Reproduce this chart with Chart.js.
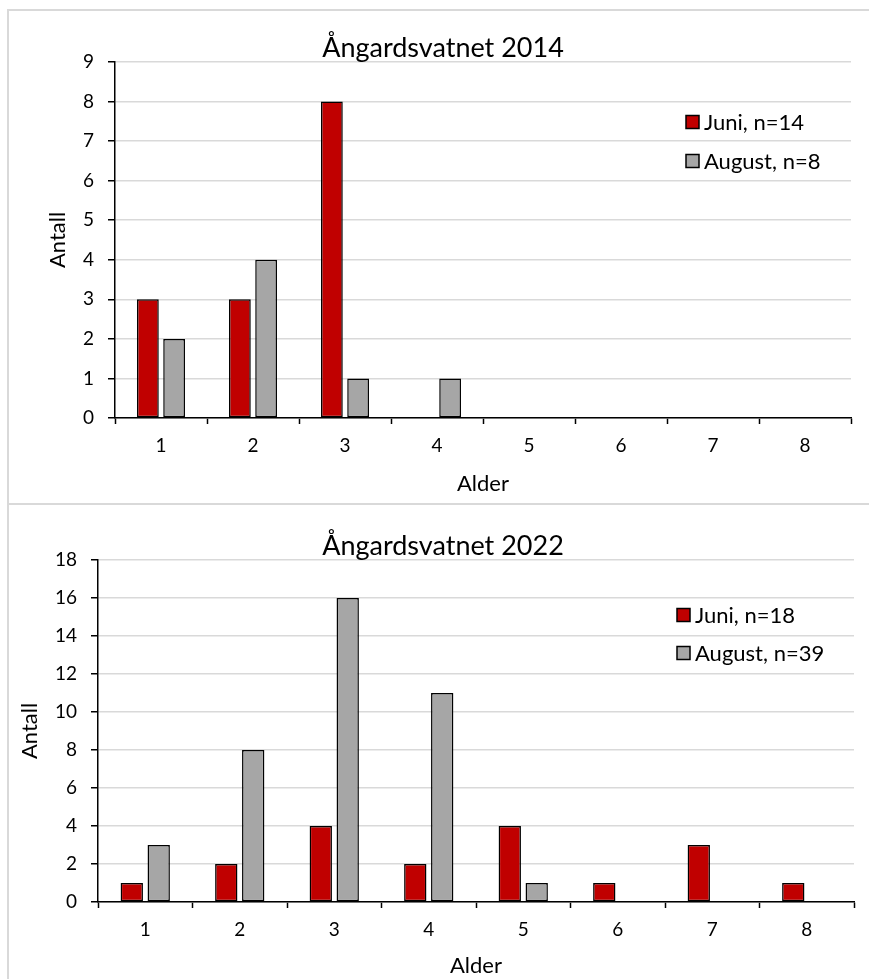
<!DOCTYPE html>
<html>
<head>
<meta charset="utf-8">
<script src="https://cdn.jsdelivr.net/npm/chart.js@4.4.1/dist/chart.umd.min.js"></script>
<style>
  html, body { margin: 0; padding: 0; background: #fff; overflow: hidden; width: 869px; height: 979px; }
  .frame { position: absolute; border: 2px solid #d9d9d9; box-sizing: border-box; }
  canvas { position: absolute; }
</style>
</head>
<body>
<div class="frame" style="left:7px; top:9px; width:900px; height:496px;"></div>
<div class="frame" style="left:7px; top:503px; width:900px; height:520px;"></div>
<canvas id="c2014" width="870" height="493" style="left:8px; top:10px;"></canvas>
<canvas id="c2022" width="870" height="476" style="left:8px; top:503px;"></canvas>
<script>
// Age classes (x axis)
const ages = ['1', '2', '3', '4', '5', '6', '7', '8'];

// Catch per age class, 2014
const juni2014 = [3, 3, 8, 0, 0, 0, 0, 0];
const august2014 = [2, 4, 1, 1, 0, 0, 0, 0];
const labels2014 = ['Juni, n=14', 'August, n=8'];

// Catch per age class, 2022
const juni2022 = [1, 2, 4, 2, 4, 1, 3, 1];
const august2022 = [3, 8, 16, 11, 1, 0, 0, 0];
const labels2022 = ['Juni, n=18', 'August, n=39'];

const titles = ['Ångardsvatnet 2014', 'Ångardsvatnet 2022'];
const yMax = [9, 18];
const yStep = [1, 2];

const FONT = 'Lato, "Open Sans", sans-serif';
const RED = '#c00000';
const GREY = '#a6a6a6';

// Draws the heading and the legend inside the plot
const panelText = {
  id: 'panelText',
  afterDraw(chart, args, o) {
    const ctx = chart.ctx;
    ctx.save();
    ctx.fillStyle = '#000';
    ctx.textBaseline = 'middle';
    ctx.textAlign = 'center';
    ctx.font = o.titleSize + 'px ' + FONT;
    ctx.fillText(o.title, chart.width / 2, o.titleY);

    ctx.font = o.legendSize + 'px ' + FONT;
    ctx.textAlign = 'left';
    chart.data.datasets.forEach((ds, i) => {
      const y = o.legendY + i * o.legendGap;
      ctx.fillStyle = ds.backgroundColor;
      ctx.fillRect(o.legendX, y - 6.5, 13, 13);
      ctx.strokeStyle = '#000';
      ctx.lineWidth = 1.5;
      ctx.strokeRect(o.legendX, y - 6.5, 13, 13);
      ctx.fillStyle = '#000';
      ctx.fillText(ds.label, o.legendX + 18, y + 1);
    });
    ctx.restore();
  }
};

function makeChart(id, idx, juni, august, names, geo) {
  return new Chart(document.getElementById(id), {
    type: 'bar',
    data: {
      labels: ages,
      datasets: [
        { label: names[0], data: juni, backgroundColor: RED },
        { label: names[1], data: august, backgroundColor: GREY }
      ]
    },
    plugins: [panelText],
    options: {
      responsive: false,
      animation: false,
      devicePixelRatio: 1,
      layout: { padding: { left: 0, top: geo.top, right: geo.right, bottom: 0 } },
      datasets: {
        bar: {
          borderColor: '#000',
          borderWidth: 1.5,
          borderSkipped: false,
          categoryPercentage: 0.57,
          barPercentage: 0.83
        }
      },
      plugins: {
        legend: { display: false },
        tooltip: { enabled: false },
        title: { display: false },
        panelText: {
          title: titles[idx],
          titleSize: 27,
          titleY: geo.titleY,
          legendSize: 22,
          legendX: geo.legendX,
          legendY: geo.legendY,
          legendGap: geo.legendGap
        }
      },
      scales: {
        x: {
          afterFit: s => { s.height = geo.xHeight; },
          grid: {
            display: true,
            offset: true,
            drawOnChartArea: false,
            drawTicks: true,
            tickLength: 6,
            tickWidth: 1.5,
            tickColor: '#000'
          },
          border: { display: true, color: '#000', width: 1.5 },
          ticks: { color: '#000', padding: 10, font: { family: FONT, size: 19 } },
          title: {
            display: true,
            text: 'Alder',
            color: '#000',
            font: { family: FONT, size: 22 },
            padding: { top: 0, bottom: geo.xTitlePad }
          }
        },
        y: {
          min: 0,
          max: yMax[idx],
          afterFit: s => { s.width = geo.yWidth; },
          ticks: { stepSize: yStep[idx], color: '#000', padding: 14, font: { family: FONT, size: 19 } },
          grid: {
            color: '#d9d9d9',
            lineWidth: 1.5,
            drawTicks: true,
            tickLength: 7,
            tickWidth: 1.5,
            tickColor: '#000'
          },
          border: { display: true, color: '#000', width: 1.5 },
          title: {
            display: true,
            text: 'Antall',
            color: '#000',
            font: { family: FONT, size: 22 },
            padding: { top: geo.yTitlePad, bottom: 0 }
          }
        }
      }
    }
  });
}

makeChart('c2014', 0, juni2014, august2014, labels2014, {
  top: 52, right: 27, yWidth: 107, xHeight: 85, xTitlePad: 6, yTitlePad: 37,
  titleY: 38, legendX: 678, legendY: 112, legendGap: 39
});

makeChart('c2022', 1, juni2022, august2022, labels2022, {
  top: 57, right: 24, yWidth: 90, xHeight: 77, xTitlePad: 0, yTitlePad: 9,
  titleY: 43, legendX: 669, legendY: 112, legendGap: 38
});
</script>
</body>
</html>
